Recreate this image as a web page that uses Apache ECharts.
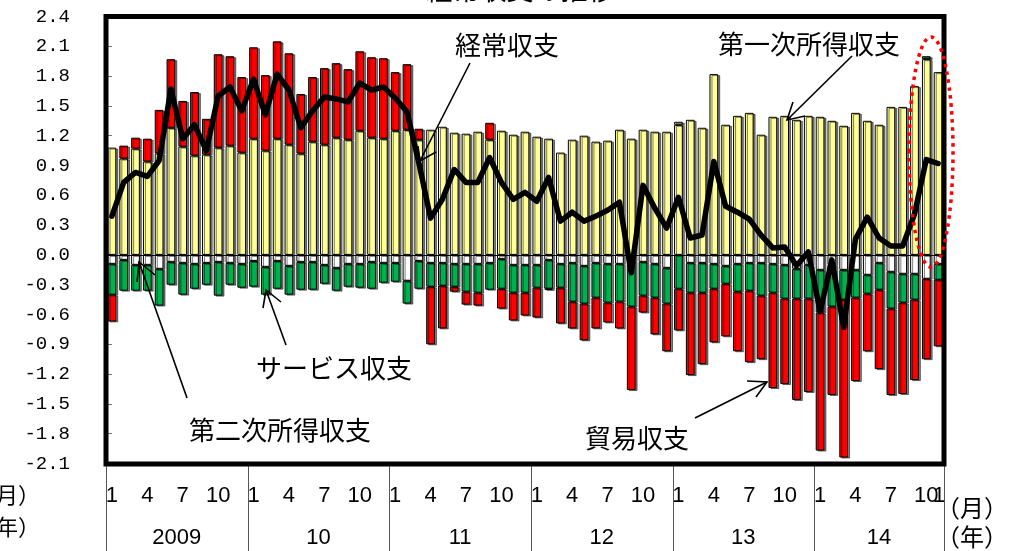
<!DOCTYPE html>
<html>
<head>
<meta charset="utf-8">
<script src="https://cdn.jsdelivr.net/npm/echarts@6/dist/echarts.min.js"></script>
<style>
  html, body { margin: 0; padding: 0; background: #fff; }
  #chart { width: 1023px; height: 551px; }
</style>
</head>
<body>
<div id="chart"></div>
<script>
// Japan's balance of payments by month, Jan 2009 - Nov 2014 (trillion yen)
const years = [2009, 2010, 2011, 2012, 2013, 2014];
const monthsInLastYear = 11;
const monthTicks = [1, 4, 7, 10];
const yearLabels = ['2009', '10', '11', '12', '13', '14'];

// 第一次所得収支
const primaryIncome = [
  1.08, 0.97, 1.07, 0.94, 1.02, 1.28, 1.09, 1.00, 1.01, 1.08, 1.10, 1.03,
  1.17, 1.05, 1.17, 1.11, 1.02, 1.14, 1.11, 1.18, 1.16, 1.25, 1.18, 1.17,
  1.25, 1.26, 1.16, 1.26, 1.29, 1.23, 1.22, 1.24, 1.16, 1.25, 1.21, 1.24,
  1.19, 1.17, 1.03, 1.16, 1.20, 1.14, 1.15, 1.26, 1.17, 1.26, 1.24, 1.24,
  1.31, 1.36, 1.28, 1.82, 1.31, 1.40, 1.43, 1.21, 1.39, 1.40, 1.36, 1.40,
  1.39, 1.35, 1.30, 1.43, 1.35, 1.31, 1.49, 1.49, 1.70, 1.97, 1.84
];
// 貿易収支
const tradeBalance = [
  -0.27, 0.13, 0.11, 0.23, 0.44, 0.69, 0.46, 0.64, 0.36, 0.94, 0.90, 0.76,
  0.92, 0.76, 0.98, 0.92, 0.60, 0.65, 0.77, 0.75, 0.71, 0.80, 0.81, 0.81,
  0.59, 0.66, 0.11, -0.58, -0.43, -0.05, -0.13, -0.13, 0.17, -0.20, -0.28, -0.23,
  -0.30, -0.01, -0.36, -0.27, -0.37, -0.31, -0.20, -0.27, -0.84, -0.17, -0.37, -0.48,
  -0.42, -0.83, -0.72, -0.54, -0.53, -0.60, -0.72, -0.64, -0.96, -0.86, -1.02, -0.94,
  -1.39, -0.89, -1.59, -0.84, -0.58, -0.80, -0.87, -0.92, -0.81, -0.81, -0.67
];
// サービス収支
const servicesBalance = [
  -0.31, -0.31, -0.26, -0.26, -0.37, -0.23, -0.32, -0.25, -0.22, -0.34, -0.22, -0.24,
  -0.26, -0.28, -0.28, -0.29, -0.28, -0.28, -0.19, -0.23, -0.23, -0.24, -0.27, -0.20,
  -0.19, -0.23, -0.28, -0.24, -0.23, -0.23, -0.28, -0.29, -0.27, -0.30, -0.28, -0.28,
  -0.23, -0.29, -0.24, -0.39, -0.38, -0.35, -0.39, -0.38, -0.46, -0.34, -0.34, -0.36,
  -0.34, -0.30, -0.30, -0.25, -0.18, -0.28, -0.28, -0.33, -0.29, -0.34, -0.30, -0.34,
  -0.43, -0.42, -0.30, -0.28, -0.19, -0.27, -0.37, -0.29, -0.26, 0.03, -0.16
];
// 第二次所得収支
const secondaryIncome = [
  -0.09, -0.05, -0.10, -0.10, -0.14, -0.07, -0.08, -0.09, -0.08, -0.07, -0.08, -0.09,
  -0.06, -0.12, -0.06, -0.11, -0.07, -0.07, -0.10, -0.13, -0.09, -0.09, -0.07, -0.08,
  -0.08, -0.26, -0.06, -0.08, -0.08, -0.09, -0.09, -0.09, -0.08, -0.04, -0.10, -0.10,
  -0.10, -0.05, -0.09, -0.08, -0.11, -0.08, -0.09, -0.09, -0.06, -0.07, -0.09, -0.13,
  0.03, -0.08, -0.08, -0.09, -0.11, -0.09, -0.08, -0.08, -0.09, -0.10, -0.14, -0.10,
  -0.15, -0.10, -0.15, -0.15, -0.20, -0.08, -0.17, -0.19, -0.19, -0.24, -0.09
];
// 経常収支
const currentAccount = [
  0.39, 0.73, 0.83, 0.79, 0.95, 1.67, 1.17, 1.31, 1.05, 1.60, 1.69, 1.45,
  1.77, 1.41, 1.82, 1.66, 1.28, 1.45, 1.59, 1.57, 1.54, 1.73, 1.66, 1.69,
  1.58, 1.44, 0.93, 0.37, 0.56, 0.86, 0.73, 0.73, 0.98, 0.73, 0.56, 0.63,
  0.54, 0.78, 0.34, 0.43, 0.34, 0.39, 0.45, 0.53, -0.18, 0.70, 0.47, 0.27,
  0.58, 0.17, 0.20, 0.94, 0.49, 0.43, 0.36, 0.20, 0.07, 0.08, -0.11, 0.03,
  -0.57, -0.05, -0.73, 0.16, 0.38, 0.17, 0.09, 0.09, 0.41, 0.96, 0.92
];

// category keys "year-month"
const categories = [];
const yearStartIndex = [];
years.forEach((y, k) => {
  yearStartIndex.push(categories.length);
  const n = k === years.length - 1 ? monthsInLastYear : 12;
  for (let m = 1; m <= n; m++) categories.push(y + '-' + m);
});

const NUM_FONT = '"Liberation Sans", Arial, sans-serif';
const TICK_FONT = '"Liberation Mono", "DejaVu Sans Mono", monospace';
const JP_FONT = '"Noto Sans CJK JP", "Noto Sans CJK SC", sans-serif';

const chart = echarts.init(document.getElementById('chart'), null, { renderer: 'canvas' });

function barSeries(name, data, color) {
  return {
    name, type: 'bar', stack: 'bop', data,
    barWidth: '74%',
    itemStyle: {
      color, borderColor: '#000', borderWidth: 1,
      shadowColor: 'rgba(0,0,0,0.5)', shadowOffsetX: 2, shadowOffsetY: 1, shadowBlur: 0
    },
    emphasis: { disabled: true },
    z: 2
  };
}

chart.setOption({
  animation: false,
  backgroundColor: '#fff',
  grid: { left: 106, top: 16.5, right: 79, bottom: 87.5, containLabel: false, outerBoundsMode: 'none' },
  xAxis: {
    type: 'category', data: categories, boundaryGap: true,
    axisLine: { show: false }, axisTick: { show: false }, splitLine: { show: false },
    axisLabel: {
      interval: 0, margin: 21, color: '#000', fontSize: 22, fontFamily: NUM_FONT,
      formatter: (v) => {
        const m = +v.split('-')[1];
        return monthTicks.includes(m) ? String(m) : '';
      }
    }
  },
  yAxis: {
    type: 'value', min: -2.1, max: 2.4, interval: 0.3,
    axisLine: { show: false },
    axisTick: { show: true, inside: true, length: 6, lineStyle: { color: '#777', width: 1 } },
    splitLine: { show: false },
    axisLabel: {
      margin: 36, color: '#000', fontSize: 19, fontFamily: TICK_FONT,
      formatter: (v) => (Math.abs(v) < 1e-9 ? '0.0' : v.toFixed(1))
    }
  },
  series: [
    barSeries('第一次所得収支', primaryIncome, '#FFFF99'),
    barSeries('第二次所得収支', secondaryIncome, '#FFFFFF'),
    barSeries('サービス収支', servicesBalance, '#00B050'),
    barSeries('貿易収支', tradeBalance, '#FF0000'),
    {
      name: '経常収支', type: 'line', data: currentAccount,
      symbol: 'none', smooth: false, z: 5,
      lineStyle: { color: '#000', width: 5.5, join: 'round', cap: 'round' },
      emphasis: { disabled: true },
      markLine: {
        silent: true, symbol: ['none', 'none'], label: { show: false },
        lineStyle: { color: '#000', width: 1, type: 'solid' },
        data: [{ yAxis: 0 }]
      }
    }
  ]
});

// year dividers and year labels below the month labels, placed on the category scale
const c0 = chart.convertToPixel({ xAxisIndex: 0 }, categories[0]);
const c1 = chart.convertToPixel({ xAxisIndex: 0 }, categories[1]);
const band = c1 - c0;
const edge = (k) => c0 + (k - 0.5) * band;

const graphics = [];
const bounds = yearStartIndex.concat([categories.length]);
bounds.forEach((k) => {
  const x = Math.round(edge(k)) + 0.5;
  graphics.push({ type: 'line', silent: true, z: 10,
    shape: { x1: x, y1: 466, x2: x, y2: 551 },
    style: { stroke: '#555', lineWidth: 1 } });
});
yearLabels.forEach((t, k) => {
  const mid = (edge(bounds[k]) + edge(bounds[k + 1])) / 2;
  graphics.push({ type: 'text', silent: true, z: 10, x: mid, y: 538,
    style: { text: t, font: '22px ' + NUM_FONT, fill: '#000', align: 'center', verticalAlign: 'middle' } });
});

// month label for the following January at the right end of the axis
graphics.push({ type: 'text', silent: true, z: 10, x: 939, y: 496,
  style: { text: '1', font: '22px ' + NUM_FONT, fill: '#000', align: 'center', verticalAlign: 'middle' } });

// frame around the plot
graphics.push({ type: 'rect', silent: true, z: 20,
  shape: { x: 106, y: 16.5, width: 838, height: 447.5 },
  style: { fill: 'none', stroke: '#000', lineWidth: 5 } });

// unit labels
function jpText(text, x, y, size, align) {
  return { type: 'text', silent: true, z: 30, x, y,
    style: { text, font: size + 'px ' + JP_FONT, fill: '#000', align: align || 'left', verticalAlign: 'middle' } };
}
graphics.push(jpText('（月）', 936, 508, 24));
graphics.push(jpText('（年）', 936, 537, 24));
graphics.push(jpText('（月）', 40, 495, 22, 'right'));
graphics.push(jpText('（年）', 40, 527, 22, 'right'));
graphics.push(jpText('経常収支の推移', 520, -10, 27, 'center'));

// series captions with pointer arrows
graphics.push(jpText('経常収支', 455, 45, 26));
graphics.push(jpText('第一次所得収支', 718, 44, 26));
graphics.push(jpText('サービス収支', 256, 368, 26));
graphics.push(jpText('第二次所得収支', 189, 430, 26));
graphics.push(jpText('貿易収支', 585, 438, 26));

function arrow(from, tip, a1, a2) {
  const st = { stroke: '#000', lineWidth: 1.6, fill: 'none' };
  graphics.push({ type: 'polyline', silent: true, z: 30, shape: { points: [from, tip] }, style: st });
  graphics.push({ type: 'polyline', silent: true, z: 30, shape: { points: [a1, tip, a2] }, style: st });
}
arrow([470, 63], [420, 161], [436, 152], [418, 146]);
arrow([852, 56], [787, 120], [793, 102], [805, 116]);
arrow([286, 345], [266, 290], [263, 308], [281, 302]);
arrow([187, 398], [139, 262], [137, 282], [155, 275]);
arrow([695, 418], [767, 382], [747, 381], [756, 397]);

// dotted highlight around the latest months
graphics.push({ type: 'ellipse', silent: true, z: 40,
  shape: { cx: 931, cy: 152, rx: 22, ry: 115 },
  style: { fill: 'none', stroke: '#FF0000', lineWidth: 3.5, lineDash: [3.5, 4.5] } });

chart.setOption({ graphic: graphics });
</script>
</body>
</html>
